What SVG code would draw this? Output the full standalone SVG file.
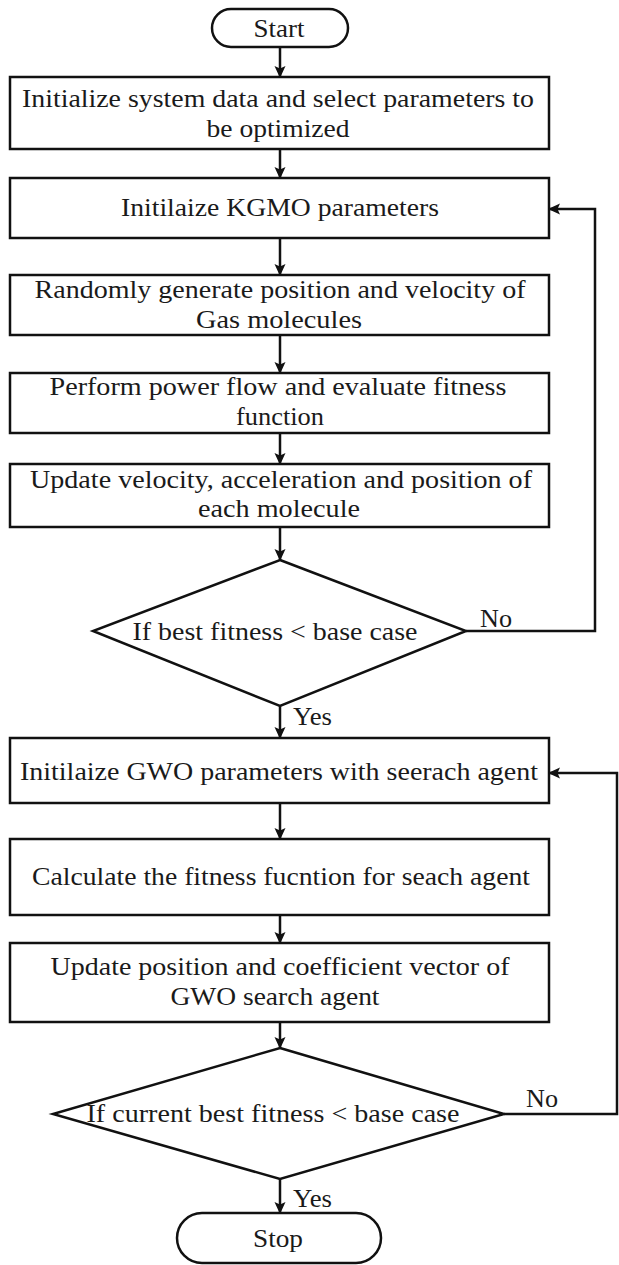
<svg xmlns="http://www.w3.org/2000/svg" width="619" height="1265" viewBox="0 0 619 1265">
<style>
.n{fill:#fff;stroke:#111;stroke-width:2.5}
.t{font-family:"Liberation Serif","Times New Roman",serif;font-size:26px;fill:#1a1a1a;text-anchor:middle}
.l{font-family:"Liberation Serif","Times New Roman",serif;font-size:26px;fill:#1a1a1a}
.c{fill:none;stroke:#111;stroke-width:2.5}
</style>
<defs>
<marker id="a" markerWidth="12" markerHeight="12" refX="11" refY="6" orient="auto" markerUnits="userSpaceOnUse">
<path d="M0,0.5 L12,6 L0,11.5 L2.5,6 Z" fill="#111"/>
</marker>
</defs>
<rect width="619" height="1265" fill="#fff"/>
<g id="start"><rect class="n" x="212" y="9" width="136" height="38" rx="19"/><text class="t" x="279" y="37" textLength="51" lengthAdjust="spacingAndGlyphs">Start</text></g>
<g id="init-system"><rect class="n" x="10" y="77" width="539" height="72"/><text class="t" x="278" y="107" textLength="512" lengthAdjust="spacingAndGlyphs">Initialize system data and select parameters to</text><text class="t" x="278" y="137" textLength="143" lengthAdjust="spacingAndGlyphs">be optimized</text></g>
<g id="init-kgmo"><rect class="n" x="10" y="178" width="539" height="60"/><text class="t" x="280" y="216" textLength="318" lengthAdjust="spacingAndGlyphs">Initilaize KGMO parameters</text></g>
<g id="random-gen"><rect class="n" x="10" y="275" width="539" height="60"/><text class="t" x="280" y="298" textLength="491" lengthAdjust="spacingAndGlyphs">Randomly generate position and velocity of</text><text class="t" x="279" y="328" textLength="166" lengthAdjust="spacingAndGlyphs">Gas molecules</text></g>
<g id="power-flow"><rect class="n" x="10" y="373" width="539" height="60"/><text class="t" x="278" y="395" textLength="457" lengthAdjust="spacingAndGlyphs">Perform power flow and evaluate fitness</text><text class="t" x="280" y="425" textLength="88" lengthAdjust="spacingAndGlyphs">function</text></g>
<g id="update-velocity"><rect class="n" x="10" y="464" width="539" height="63"/><text class="t" x="281" y="488" textLength="502" lengthAdjust="spacingAndGlyphs">Update velocity, acceleration and position of</text><text class="t" x="279" y="517" textLength="162" lengthAdjust="spacingAndGlyphs">each molecule</text></g>
<g id="decision1"><path class="n" d="M280,560 L466,631 L280,706 L93,631 Z"/><text class="t" x="275" y="640" textLength="285" lengthAdjust="spacingAndGlyphs">If best fitness &lt; base case</text></g>
<g id="init-gwo"><rect class="n" x="10" y="738" width="539" height="65"/><text class="t" x="279" y="780" textLength="518" lengthAdjust="spacingAndGlyphs">Initilaize GWO parameters with seerach agent</text></g>
<g id="calc-fitness"><rect class="n" x="10" y="839" width="539" height="76"/><text class="t" x="281" y="885" textLength="498" lengthAdjust="spacingAndGlyphs">Calculate the fitness fucntion for seach agent</text></g>
<g id="update-position"><rect class="n" x="10" y="943" width="539" height="79"/><text class="t" x="280" y="975" textLength="459" lengthAdjust="spacingAndGlyphs">Update position and coefficient vector of</text><text class="t" x="275" y="1005" textLength="209" lengthAdjust="spacingAndGlyphs">GWO search agent</text></g>
<g id="decision2"><path class="n" d="M280,1048 L504,1114 L280,1179 L53,1114 Z"/><text class="t" x="273" y="1122" textLength="373" lengthAdjust="spacingAndGlyphs">If current best fitness &lt; base case</text></g>
<g id="stop"><rect class="n" x="177" y="1213" width="204" height="50" rx="25"/><text class="t" x="278" y="1247" textLength="50" lengthAdjust="spacingAndGlyphs">Stop</text></g>
<g id="connectors">
<path class="c" d="M280,47 V77" marker-end="url(#a)"/>
<path class="c" d="M280,149 V178" marker-end="url(#a)"/>
<path class="c" d="M280,238 V275" marker-end="url(#a)"/>
<path class="c" d="M280,335 V373" marker-end="url(#a)"/>
<path class="c" d="M280,433 V464" marker-end="url(#a)"/>
<path class="c" d="M280,527 V560" marker-end="url(#a)"/>
<path class="c" d="M466,631 H595 V209 H549" marker-end="url(#a)"/>
<path class="c" d="M280,706 V738" marker-end="url(#a)"/>
<path class="c" d="M280,803 V839" marker-end="url(#a)"/>
<path class="c" d="M280,915 V943" marker-end="url(#a)"/>
<path class="c" d="M280,1022 V1048" marker-end="url(#a)"/>
<path class="c" d="M504,1114 H617 V773 H549" marker-end="url(#a)"/>
<path class="c" d="M280,1179 V1213" marker-end="url(#a)"/>
<text class="l" x="480" y="627" textLength="32" lengthAdjust="spacingAndGlyphs">No</text>
<text class="l" x="293" y="725" textLength="39" lengthAdjust="spacingAndGlyphs">Yes</text>
<text class="l" x="526" y="1107" textLength="32" lengthAdjust="spacingAndGlyphs">No</text>
<text class="l" x="293" y="1207" textLength="39" lengthAdjust="spacingAndGlyphs">Yes</text>
</g>
</svg>
